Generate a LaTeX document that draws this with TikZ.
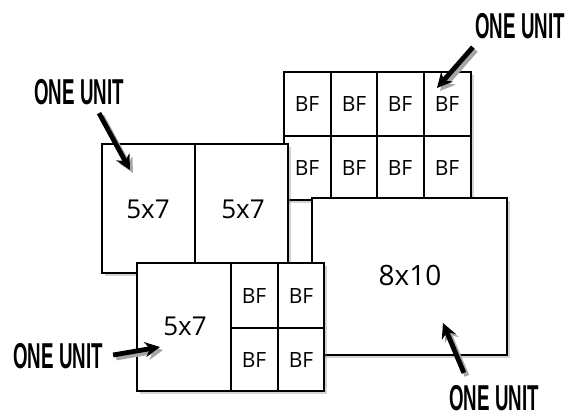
\documentclass[tikz,border=0pt]{standalone}
\usepackage{fontspec}
\usepackage{graphicx}
\usetikzlibrary{shadows,arrows.meta}
\newfontfamily\handfont{Open Sans}
\newfontfamily\labelfont{Liberation Sans}
\newcommand{\oneunit}{\scalebox{0.52}[1]{ONE UNIT}}

\tikzset{
  card/.style={draw, fill=white, line width=1.4pt,
    drop shadow={opacity=0.35, shadow xshift=1.5pt, shadow yshift=-1.5pt}},
  divider/.style={line width=1.4pt},
  bftext/.style={font=\handfont\fontsize{10.5}{10.5}\selectfont},
  sizetext/.style={font=\handfont\fontsize{13}{13}\selectfont},
  unitlabel/.style={font=\labelfont\bfseries\fontsize{18}{18}\selectfont, inner sep=0pt},
  pointer/.style={->, line width=2.4pt,
    preaction={draw=black!35, line width=2.4pt, transform canvas={xshift=1.5pt, yshift=-1.5pt}}}
}

\begin{document}
\begin{tikzpicture}[x=0.5pt, y=-0.5pt, >={Stealth[length=7.5pt,width=7.5pt]}]

    \useasboundingbox (0,0) rectangle (570,417);

    % eight billfolds, top right
    \draw[card] (284,72) rectangle (471,200);
    \draw[divider] (284,136) -- (471,136);
    \foreach \x in {331,377,424}
        \draw[divider] (\x,72) -- (\x,200);
    \foreach \x/\y [count=\i] in {307/104,354/104,400/104,447/104,307/168,354/168,400/168,447/168}
        \node[bftext] (bf\i) at (\x,\y) {BF};

    % two 5x7 side by side
    \draw[card] (102,144) rectangle (288,273);
    \draw[divider] (195,144) -- (195,273);
    \node[sizetext] (pairA) at (148,209) {5x7};
    \node[sizetext] (pairB) at (243,209) {5x7};

    % one 8x10
    \draw[card] (312,198) rectangle (507,355);
    \node[sizetext, font=\handfont\fontsize{14}{14}\selectfont] (big) at (410,275) {8x10};

    % one 5x7 and four billfolds
    \draw[card] (137,263) rectangle (324,391);
    \draw[divider] (231,263) -- (231,391);
    \draw[divider] (278,263) -- (278,391);
    \draw[divider] (231,328) -- (324,328);
    \node[sizetext] (mixA) at (185,326) {5x7};
    \foreach \x/\y [count=\i] in {254/296,301/296,254/360,301/360}
        \node[bftext] (mixbf\i) at (\x,\y) {BF};

    % labels and arrows
    \node[unitlabel] (u1) at (79,92) {\oneunit};
    \node[unitlabel] (u2) at (520,26) {\oneunit};
    \node[unitlabel] (u3) at (58,356) {\oneunit};
    \node[unitlabel] (u4) at (494,398) {\oneunit};

    \coordinate (t1) at (130,170);
    \coordinate (t2) at (437,88);
    \coordinate (t3) at (160,347);
    \coordinate (t4) at (443,323);

    \draw[pointer] ([shift={(20,8)}]u1.south) -- (t1);
    \draw[pointer] ([shift={(-2,8)}]u2.south west) -- (t2);
    \draw[pointer] ([shift={(10,-1)}]u3.east) -- (t3);
    \draw[pointer] ([shift={(15,-12)}]u4.north west) -- (t4);

\end{tikzpicture}
\end{document}
